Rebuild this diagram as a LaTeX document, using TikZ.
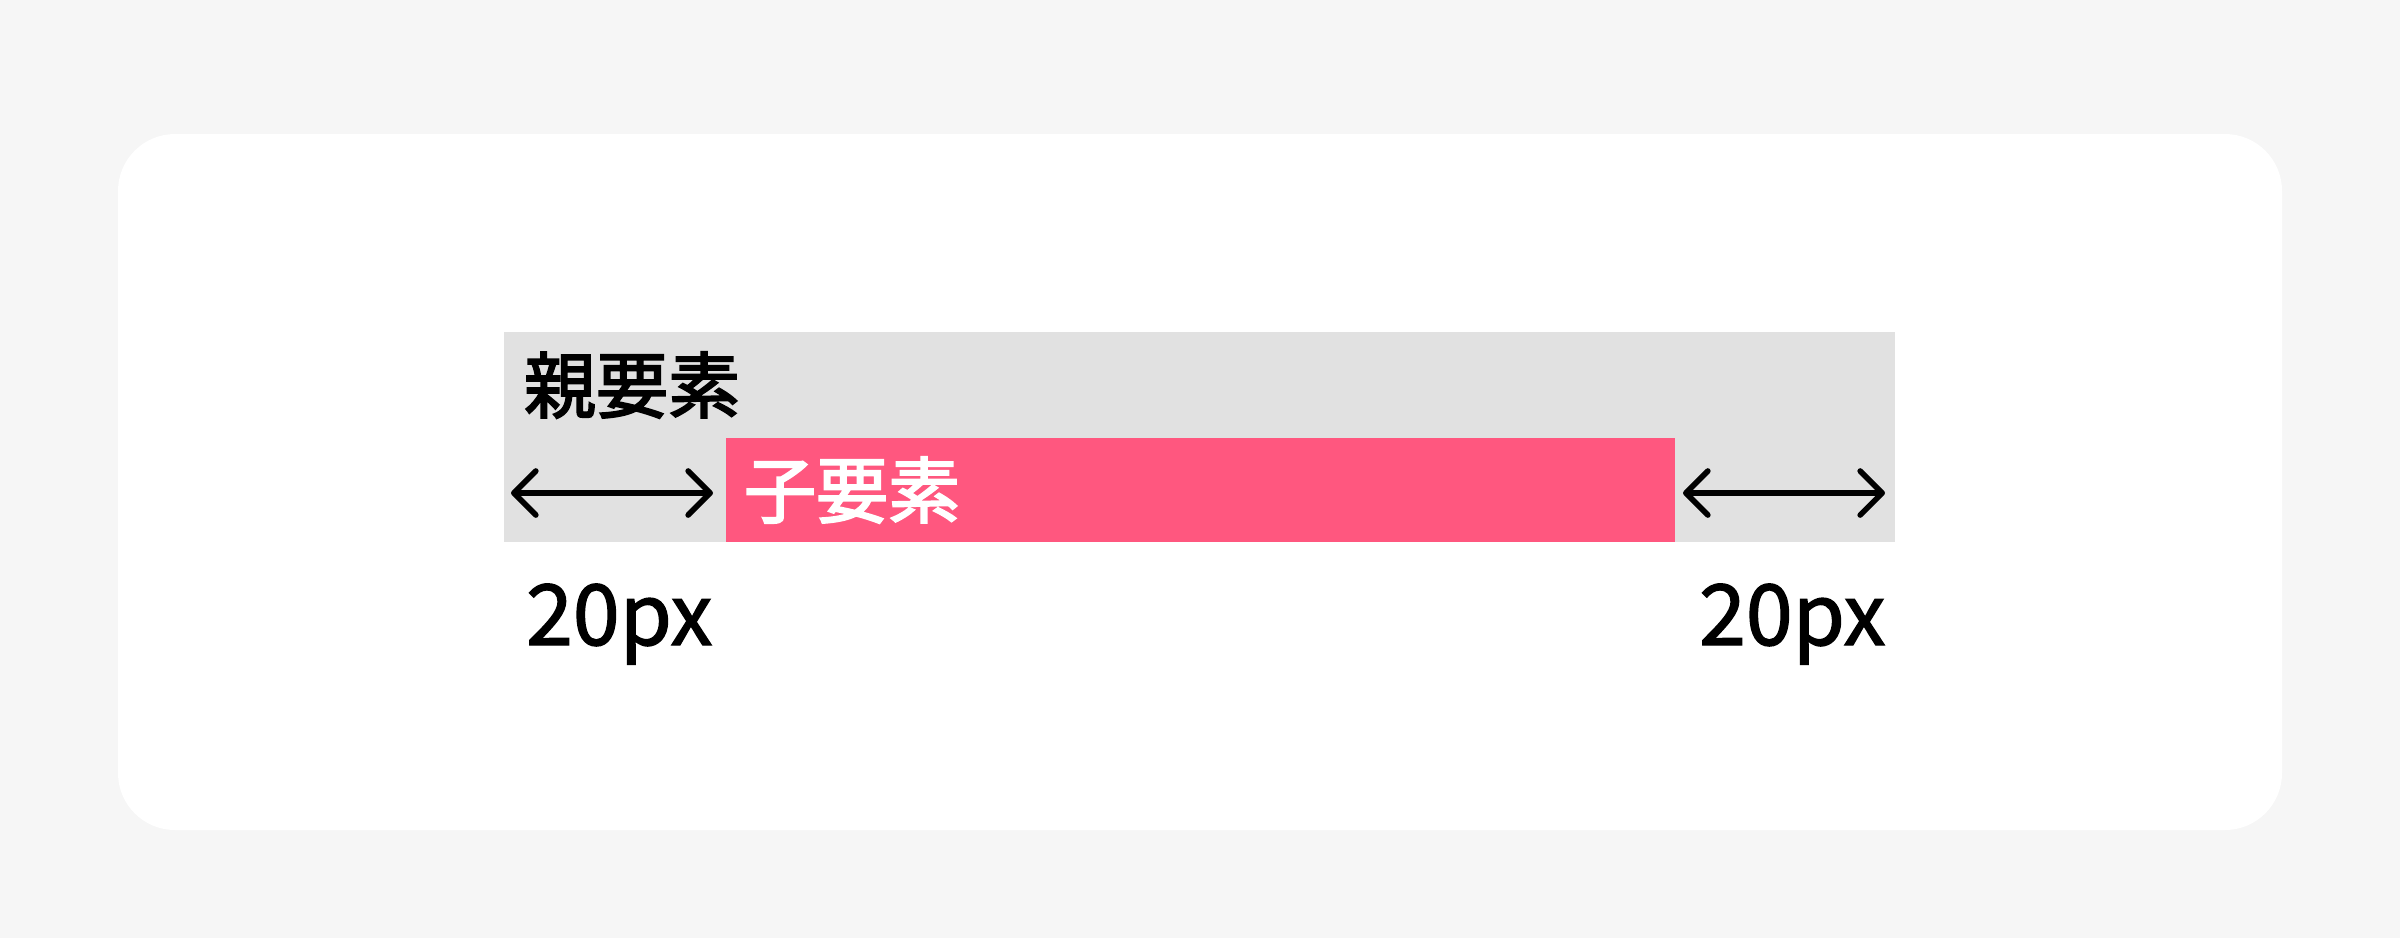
\documentclass[tikz,border=0pt]{standalone}
\usepackage{fontspec}
\setmainfont{Noto Sans CJK JP}
\newfontfamily\heavycjk{Noto Sans CJK JP}[FakeBold=2.6]
\newfontfamily\mediumcjk{Noto Sans CJK JP}[FakeBold=1.6]
\usetikzlibrary{arrows.meta}
\definecolor{pagebg}{HTML}{F6F6F6}
\definecolor{parentgray}{HTML}{E1E1E1}
\definecolor{childpink}{HTML}{FF577F}
\begin{document}
\begin{tikzpicture}[x=0.01cm,y=-0.01cm]
    \tikzstyle{every node}=[inner sep=0pt,outer sep=0pt]
    \tikzstyle{block}=[anchor=north west]
    \tikzstyle{label}=[font=\heavycjk\fontsize{20.5pt}{24pt}\selectfont]
    \tikzstyle{width label}=[anchor=base west,font=\mediumcjk\fontsize{24pt}{28pt}\selectfont]
    \tikzstyle{dimarrow}=[line width=1.6pt,line cap=round,
        {Straight Barb[length=2.2mm,width=4.4mm,round]}-{Straight Barb[length=2.2mm,width=4.4mm,round]}]
    \fill[pagebg] (0,0) rectangle (2400,938);
    \fill[white,rounded corners=0.57cm] (118,134) rectangle (2282,830);
    \draw (504,332) node[block,fill=parentgray,minimum width=13.90cm,minimum height=2.10cm] (parent) {};
    \draw (726,438) node[block,fill=childpink,minimum width=9.48cm,minimum height=1.04cm] (child) {};
    \draw (524,385) node[label,anchor=west] (parentlabel) {親要素};
    \draw (744,490) node[label,anchor=west,text=white] (childlabel) {子要素};
    \coordinate (la) at (511,493);
    \coordinate (lb) at (713,493);
    \coordinate (ra) at (1683,493);
    \coordinate (rb) at (1885,493);
    \draw[dimarrow] (la) -- (lb);
    \draw[dimarrow] (ra) -- (rb);
    \draw (526,645) node[width label] (leftwidth) {20px};
    \draw (1699,645) node[width label] (rightwidth) {20px};
\end{tikzpicture}
\end{document}
